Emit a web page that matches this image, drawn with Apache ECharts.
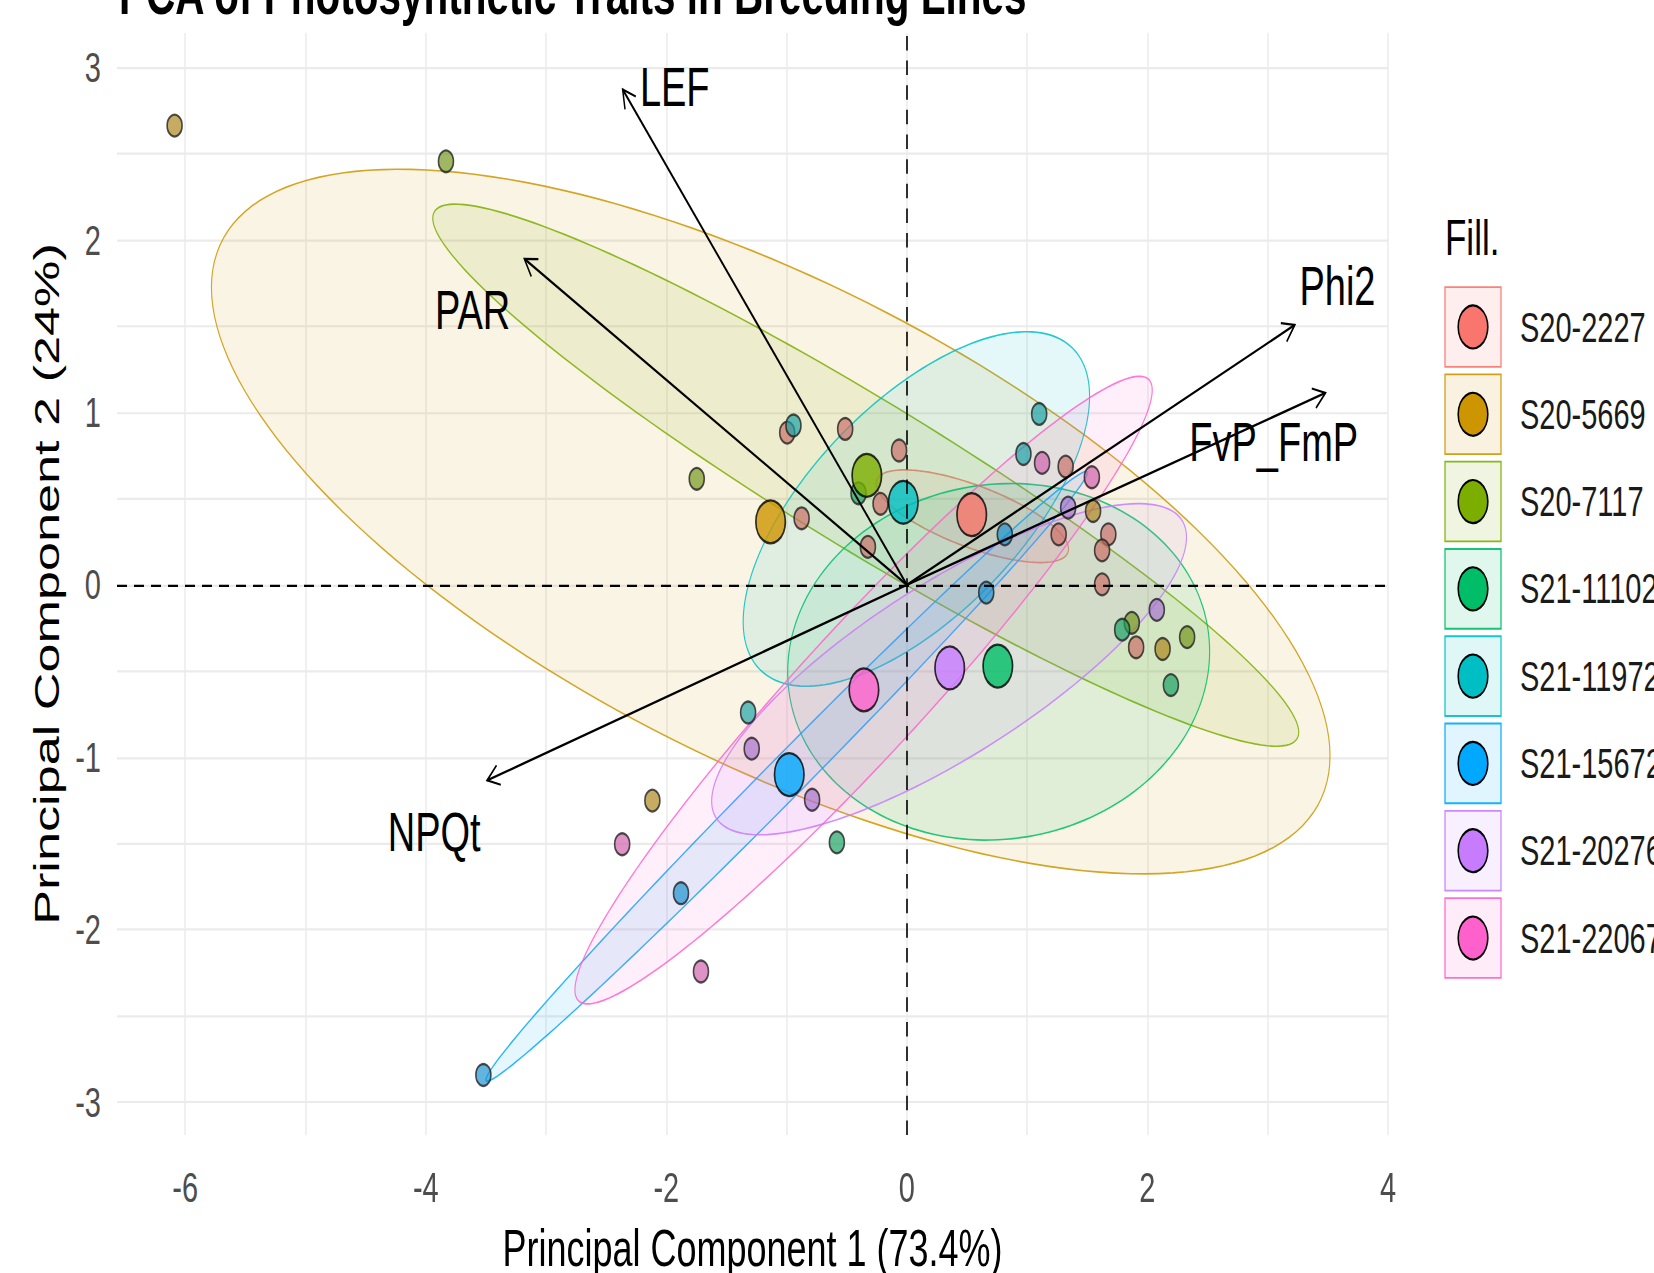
<!DOCTYPE html>
<html>
<head>
<meta charset="utf-8">
<script src="https://cdn.jsdelivr.net/npm/echarts@6/dist/echarts.min.js"></script>
<style>
html,body{margin:0;padding:0;background:#ffffff;overflow:hidden;width:1654px;height:1273px;}
#chart{width:1654px;height:878px;transform:scaleY(1.45);transform-origin:0 0;}
</style>
</head>
<body>
<div id="chart"></div>
<script>
// ---------------- data ----------------
const groups = ['S20-2227','S20-5669','S20-7117','S21-11102','S21-11972','S21-15672','S21-20276','S21-22067'];
const groupColors = ['#F8766D','#CD9600','#7CAE00','#00BE67','#00BFC4','#00A9FF','#C77CFF','#FF61CC'];

const obsS20_2227 = [[-0.995,0.883],[-0.513,0.904],[-0.065,0.779],[-0.219,0.47],[-0.875,0.386],[-0.324,0.22],[1.32,0.686],[1.262,0.293],[1.675,0.293],[1.623,0.2],[1.623,0.003],[1.906,-0.362]];
const obsS20_5669 = [[-6.088,2.663],[-2.116,-1.251],[2.126,-0.372],[1.548,0.428]];
const obsS20_7117 = [[-3.832,2.456],[-1.747,0.615],[2.33,-0.303],[1.87,-0.22]];
const obsS21_11102 = [[-0.402,0.531],[2.195,-0.581],[-0.582,-1.493],[1.79,-0.26]];
const obsS21_11972 = [[-0.943,0.924],[1.10,0.991],[0.969,0.759],[-1.32,-0.74]];
const obsS21_15672 = [[0.814,0.293],[0.66,-0.045],[-1.878,-1.788],[-3.521,-2.842]];
const obsS21_20276 = [[1.341,0.448],[2.078,-0.145],[-0.788,-1.246],[-1.29,-0.95]];
const obsS21_22067 = [[1.124,0.707],[1.538,0.624],[-2.367,-1.504],[-1.712,-2.242]];
const observations = [obsS20_2227,obsS20_5669,obsS20_7117,obsS21_11102,obsS21_11972,obsS21_15672,obsS21_20276,obsS21_22067];

const groupMeans = [[0.539,0.407],[-1.133,0.365],[-0.333,0.635],[0.756,-0.471],[-0.03,0.479],[-0.978,-1.10],[0.356,-0.482],[-0.357,-0.609]];

// ellipse: centre, and conjugate half-diameters (rightmost point offset [rx, ry], vertical half-chord hb)
const ellipseCentres = [[0.544,0.398],[-1.132,0.367],[-0.342,0.636],[0.763,-0.446],[0.079,0.44],[-1.0,-1.11],[0.351,-0.489],[-0.36,-0.61]];
const ellipseSpans = [[0.80,-0.19,0.19],[4.65,-1.358,1.526],[3.60,-1.49,0.50],[1.754,0.06,1.032],[1.44,0.654,0.793],[2.50,1.76,0.165],[1.974,0.765,0.58],[2.40,1.739,0.536]];

const loadingNames = ['LEF','PAR','Phi2','FvP_FmP','NPQt'];
const loadingTips = [[-2.363,2.873],[-3.18,1.89],[3.225,1.507],[3.48,1.113],[-3.49,-1.134]];
const loadingLabels = [[-1.93,2.887],[-3.61,1.594],[3.58,1.733],[3.05,0.829],[-3.93,-1.43]];

const xLabelTicks = [-6,-4,-2,0,2,4];
const xGridTicks = [-6,-5,-4,-3,-2,-1,0,1,2,3,4];
const yLabelTicks = [-3,-2,-1,0,1,2,3];
const yGridTicks = [-3,-2.5,-2,-1.5,-1,-0.5,0,0.5,1,1.5,2,2.5,3];

// ---------------- layout ----------------
const K = 1.45;               // vertical stretch of the reference picture
const H = 1273 / K;
const FONT = '"Liberation Sans", Arial, Helvetica, sans-serif';

function rgba(hex, a) {
  const n = parseInt(hex.slice(1), 16);
  return 'rgba(' + ((n >> 16) & 255) + ',' + ((n >> 8) & 255) + ',' + (n & 255) + ',' + a + ')';
}
function muted(hex, a) {
  const n = parseInt(hex.slice(1), 16);
  const m = v => Math.round(v * 0.72 + 85 * 0.28);
  return 'rgba(' + m((n >> 16) & 255) + ',' + m((n >> 8) & 255) + ',' + m(n & 255) + ',' + a + ')';
}

const chart = echarts.init(document.getElementById('chart'), null, {renderer: 'svg', width: 1654, height: H});

const series = [];

// ellipses
series.push({
  type: 'custom',
  name: 'ellipses',
  coordinateSystem: 'cartesian2d',
  clip: true,
  silent: true,
  z: 1,
  encode: {x: 0, y: 1},
  data: ellipseCentres.map((c, i) => [c[0], c[1], ellipseSpans[i][0], ellipseSpans[i][1], ellipseSpans[i][2], i]),
  renderItem: function (params, api) {
    const cx = api.value(0), cy = api.value(1), rx = api.value(2), ry = api.value(3), hb = api.value(4);
    const col = groupColors[api.value(5)];
    const pts = [];
    for (let k = 0; k < 180; k++) {
      const t = k / 180 * Math.PI * 2;
      pts.push(api.coord([cx + rx * Math.cos(t), cy + ry * Math.cos(t) + hb * Math.sin(t)]));
    }
    return {type: 'polygon', shape: {points: pts}, style: {fill: rgba(col, 0.1), stroke: rgba(col, 0.85), lineWidth: 1.15}};
  }
});

// observations
groups.forEach((g, i) => {
  series.push({
    type: 'scatter',
    name: g,
    z: 2,
    symbol: 'circle',
    symbolSize: 15,
    silent: true,
    data: observations[i],
    itemStyle: {color: muted(groupColors[i], 0.85), borderColor: '#222', borderWidth: 1.6}
  });
});

// group means
series.push({
  type: 'scatter',
  name: 'means',
  z: 3,
  symbol: 'circle',
  symbolSize: 29.5,
  silent: true,
  data: groupMeans.map((m, i) => ({value: m, itemStyle: {color: groupColors[i]}})),
  itemStyle: {borderColor: '#000', borderWidth: 1.7}
});

// reference dashed lines
series.push({
  type: 'scatter',
  name: 'ref',
  z: 4,
  data: [],
  markLine: {
    silent: true,
    symbol: ['none', 'none'],
    label: {show: false},
    lineStyle: {color: '#000', width: 1.6, type: [10, 7]},
    data: [{xAxis: 0}, {yAxis: 0}]
  }
});

// loading arrows
series.push({
  type: 'custom',
  name: 'loadings',
  coordinateSystem: 'cartesian2d',
  silent: true,
  z: 5,
  encode: {x: 0, y: 1},
  data: loadingTips.map((p, i) => [p[0], p[1], loadingLabels[i][0], loadingLabels[i][1]]),
  renderItem: function (params, api) {
    const i = params.dataIndex;
    const o = api.coord([0, 0]);
    const p = api.coord([api.value(0), api.value(1)]);
    const lp = api.coord([api.value(2), api.value(3)]);
    const ang = Math.atan2(p[1] - o[1], p[0] - o[0]);
    const L = 14, a = Math.PI / 6;
    const h1 = [p[0] - L * Math.cos(ang - a), p[1] - L * Math.sin(ang - a)];
    const h2 = [p[0] - L * Math.cos(ang + a), p[1] - L * Math.sin(ang + a)];
    return {
      type: 'group',
      children: [
        {type: 'line', shape: {x1: o[0], y1: o[1], x2: p[0], y2: p[1]}, style: {stroke: '#000', lineWidth: 1.7}},
        {type: 'polyline', shape: {points: [h1, p, h2]}, style: {stroke: '#000', fill: null, lineWidth: 1.5}},
        {type: 'text', style: {text: loadingNames[i], x: lp[0], y: lp[1], fill: '#000', fontSize: 38, fontFamily: FONT, align: 'center', verticalAlign: 'middle'}}
      ]
    };
  }
});

// legend (drawn as graphic keys built from the group list)
const legendGraphics = [{
  type: 'text', left: 1445, top: 164 - 17.5,
  style: {text: 'Fill.', fill: '#000', fontSize: 35, fontFamily: FONT}
}];
groups.forEach((g, i) => {
  const cy = 225.5 + 60.2 * i;
  legendGraphics.push({type: 'rect', shape: {x: 1445, y: cy - 27.5, width: 56, height: 55},
    style: {fill: rgba(groupColors[i], 0.12), stroke: rgba(groupColors[i], 0.9), lineWidth: 1.3}});
  legendGraphics.push({type: 'circle', shape: {cx: 1473, cy: cy, r: 14.8},
    style: {fill: groupColors[i], stroke: '#000', lineWidth: 1.6}});
  legendGraphics.push({type: 'text', x: 1520, y: cy,
    style: {text: g, fill: '#1a1a1a', fontSize: 29, fontFamily: FONT, verticalAlign: 'middle', align: 'left'}});
});

const option = {
  animation: false,
  backgroundColor: '#ffffff',
  title: {
    text: 'PCA of Photosynthetic Traits in Breeding Lines',
    left: 114, top: -30,
    textStyle: {fontSize: 40.5, fontWeight: 'bold', color: '#000', fontFamily: FONT}
  },
  grid: {left: 117, right: 1654 - 1388, top: 33 / K, bottom: (1273 - 1135) / K, containLabel: false, outerBoundsMode: 'none'},
  xAxis: {
    type: 'value', min: -6.567, max: 4.0,
    axisLine: {show: false},
    axisTick: {show: false, customValues: xGridTicks},
    axisLabel: {customValues: xLabelTicks, color: '#4d4d4d', fontSize: 29, margin: 22, fontFamily: FONT},
    splitLine: {show: true, lineStyle: {color: '#ebebeb', width: 1.5}},
    name: 'Principal Component 1 (73.4%)', nameLocation: 'middle', nameGap: 60,
    nameTextStyle: {fontSize: 36, color: '#000', fontFamily: FONT}
  },
  yAxis: {
    type: 'value', min: -3.19, max: 3.2,
    axisLine: {show: false},
    axisTick: {show: false, customValues: yGridTicks},
    axisLabel: {customValues: yLabelTicks, color: '#4d4d4d', fontSize: 29, margin: 16, fontFamily: FONT},
    splitLine: {show: true, lineStyle: {color: '#ebebeb', width: 1.5}},
    name: 'Principal Component 2 (24%)', nameLocation: 'middle', nameGap: 52, nameRotate: 90,
    nameTextStyle: {fontSize: 36, color: '#000', fontFamily: FONT}
  },
  graphic: legendGraphics,
  series: series
};
chart.setOption(option);
</script>
</body>
</html>
